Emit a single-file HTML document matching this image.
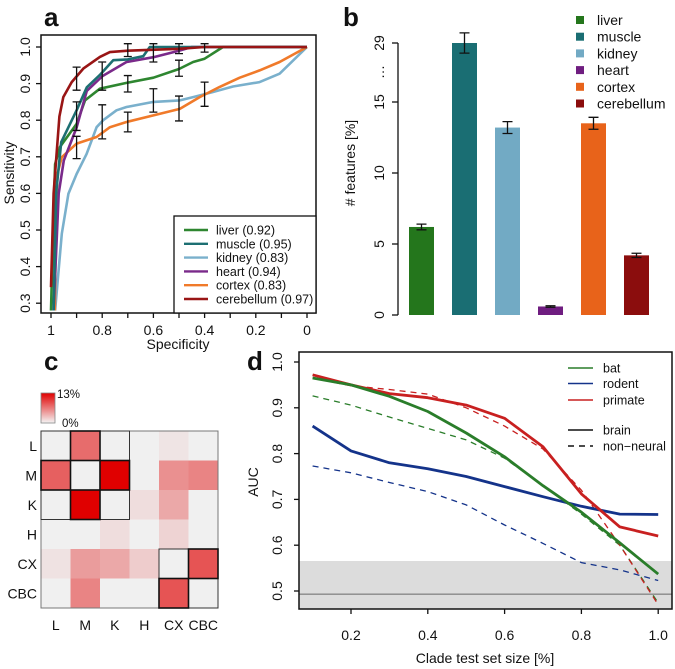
<!DOCTYPE html>
<html><head><meta charset="utf-8">
<style>
html,body{margin:0;padding:0;background:#fff;}
svg{display:block;font-family:"Liberation Sans",Arial,sans-serif;}
text{fill:#111;}
</style></head>
<body>
<svg id="fig" width="675" height="669" viewBox="0 0 675 669" xmlns="http://www.w3.org/2000/svg">
  <defs>
    <linearGradient id="cbar" x1="0" y1="1" x2="0" y2="0">
      <stop offset="0" stop-color="#f4f4f4"/><stop offset="1" stop-color="#e00000"/>
    </linearGradient>
  </defs>
  <g id="pa"></g>
  <g id="pb"></g>
  <g id="pc"></g>
  <g id="pd"></g>
</svg>
<script>
// ---------- Panel a data ----------
const rocNames = ["liver (0.92)","muscle (0.95)","kidney (0.83)","heart (0.94)","cortex (0.83)","cerebellum (0.97)"];
const rocColors = ["#2e8630","#1d6f72","#7ab0cc","#7a2a8a","#f07a2a","#991515"];
const rocLiver = [[1,0.27],[0.99,0.55],[0.984,0.68],[0.965,0.727],[0.9,0.79],[0.867,0.854],[0.809,0.886],[0.705,0.902],[0.6,0.916],[0.5,0.94],[0.445,0.959],[0.4,0.968],[0.328,1],[0,1]];
const rocMuscle = [[0.99,0.28],[0.98,0.6],[0.96,0.74],[0.9,0.827],[0.86,0.89],[0.81,0.923],[0.757,0.964],[0.7,0.966],[0.64,0.975],[0.614,1],[0,1]];
const rocKidney = [[0.984,0.28],[0.958,0.49],[0.932,0.599],[0.9,0.653],[0.861,0.708],[0.822,0.781],[0.796,0.8],[0.744,0.827],[0.705,0.836],[0.6,0.85],[0.497,0.854],[0.445,0.863],[0.367,0.877],[0.289,0.892],[0.185,0.904],[0.107,0.927],[0,1]];
const rocHeart = [[0.99,0.28],[0.97,0.6],[0.95,0.69],[0.9,0.78],[0.86,0.88],[0.8,0.92],[0.705,0.959],[0.6,0.972],[0.5,0.99],[0.45,1],[0,1]];
const rocCortex = [[0.985,0.28],[0.98,0.55],[0.975,0.653],[0.958,0.699],[0.9,0.736],[0.822,0.754],[0.77,0.781],[0.705,0.795],[0.6,0.813],[0.497,0.831],[0.419,0.863],[0.341,0.891],[0.263,0.916],[0.185,0.936],[0.107,0.959],[0,1]];
const rocCereb = [[1,0.344],[0.99,0.6],[0.967,0.81],[0.952,0.863],[0.919,0.904],[0.874,0.941],[0.809,0.973],[0.77,0.986],[0.7,0.99],[0.5,0.995],[0.4,1],[0,1]];
const rocErr = [[0.9,0.882,0.945],[0.9,0.772,0.85],[0.9,0.695,0.756],[0.8,0.882,0.959],[0.8,0.749,0.842],[0.7,0.974,1.009],[0.7,0.877,0.922],[0.7,0.768,0.822],[0.6,0.959,1.009],[0.6,0.822,0.886],[0.5,0.982,1.009],[0.5,0.92,0.964],[0.5,0.798,0.866],[0.4,0.986,1.009],[0.4,0.838,0.904]];
const rocXTicks = [1,0.8,0.6,0.4,0.2,0];
const rocYTicks = [0.3,0.4,0.5,0.6,0.7,0.8,0.9,1.0];

// ---------- Panel b data ----------
const barNames = ["liver","muscle","kidney","heart","cortex","cerebellum"];
const barColors = ["#24761c","#1a6e73","#72aac4","#6f1d80","#e8631a","#8b0d0d"];
const barValues = [6.2,29,13.2,0.6,13.5,4.2];
const barErrors = [0.2,2.4,0.42,0.05,0.42,0.15];
const barTicks = [0,5,10,15,29];

// ---------- Panel c data ----------
const hmLabels = ["L","M","K","H","CX","CBC"];
const hmValues = [
  [0,0.55,0,0,0.05,0],
  [0.6,0,1.0,0,0.4,0.45],
  [0,1.0,0,0.08,0.3,0],
  [0,0,0.08,0,0.12,0],
  [0.06,0.35,0.3,0.15,0,0.65],
  [0,0.45,0,0,0.65,0]
];
const hmBold = [[0,1],[1,0],[1,2],[2,1],[4,5],[5,4]];

// ---------- Panel d data ----------
const aucX = [0.1,0.2,0.3,0.4,0.5,0.6,0.7,0.8,0.9,1.0];
const batBrain = [0.965,0.95,0.925,0.892,0.845,0.793,0.73,0.672,0.605,0.537];
const batNon = [0.926,0.906,0.88,0.855,0.83,0.79,0.73,0.668,0.6,0.474];
const rodentBrain = [0.86,0.806,0.78,0.767,0.75,0.728,0.706,0.685,0.668,0.667];
const rodentNon = [0.773,0.758,0.737,0.717,0.688,0.644,0.604,0.562,0.546,0.523];
const primateBrain = [0.972,0.95,0.931,0.922,0.906,0.877,0.815,0.712,0.64,0.62];
const primateNon = [0.965,0.948,0.94,0.93,0.9,0.86,0.81,0.72,0.6,0.47];
const aucXTicks = [0.2,0.4,0.6,0.8,1.0];
const aucYTicks = [0.5,0.6,0.7,0.8,0.9,1.0];

const NS = "http://www.w3.org/2000/svg";
function mk(parent, tag, attrs, txt){
  const e = document.createElementNS(NS, tag);
  for (const k in attrs) e.setAttribute(k, attrs[k]);
  if (txt !== undefined) e.textContent = txt;
  parent.appendChild(e);
  return e;
}
function path(pts){ return pts.map((p,i)=>(i?"L":"M")+p[0].toFixed(1)+","+p[1].toFixed(1)).join(""); }

// ================= Panel a =================
(function(){
  const g = document.getElementById("pa");
  const sx = s => 51 + (1 - s) * 256;
  const sy = v => 47 + (1 - v) * 366;
  let t = mk(g,"text",{x:44,y:26,"font-size":26,"font-weight":"bold"},"a");
  
  
  let box = mk(g,"rect",{x:41,y:35,width:275,height:278,fill:"none",stroke:"#111","stroke-width":1.5});
  
  
  const curves = [rocLiver,rocMuscle,rocKidney,rocHeart,rocCortex,rocCereb];
  const order = [2,4,0,3,1,5];
  order.forEach(i=>{
    const p = mk(g,"path",{d:path(curves[i].map(q=>[sx(q[0]),sy(Math.max(q[1],0.28))])),fill:"none",stroke:rocColors[i],"stroke-width":2.6,"stroke-linejoin":"round"});
    
    
  });
  rocErr.forEach(e=>{
    const x = sx(e[0]);
    const eb = mk(g,"path",{d:`M${x},${sy(e[1])}V${sy(e[2])}M${x-4},${sy(e[1])}h8M${x-4},${sy(e[2])}h8`,stroke:"#111","stroke-width":1.3,fill:"none"});
    
    
  });
  rocXTicks.forEach(v=>{
    const x = sx(v);
    const tk = mk(g,"line",{x1:x,x2:x,y1:313,y2:318,stroke:"#111","stroke-width":1.3});
    
    
    const lb = mk(g,"text",{x:x,y:335,"font-size":14,"text-anchor":"middle"},String(v));
    
    
  });
  [0.9,0.7,0.5,0.3,0.1].forEach(v=>{
    const x = sx(v);
    const tk = mk(g,"line",{x1:x,x2:x,y1:313,y2:318,stroke:"#111","stroke-width":1.3});
    
    
  });
  rocYTicks.forEach(v=>{
    const y = sy(v);
    const tk = mk(g,"line",{x1:36,x2:41,y1:y,y2:y,stroke:"#111","stroke-width":1.3});
    
    
    const lb = mk(g,"text",{x:0,y:0,"font-size":14,"text-anchor":"middle",transform:`translate(30,${y}) rotate(-90)`},v.toFixed(1));
    
    
  });
  t = mk(g,"text",{x:0,y:0,"font-size":14,"text-anchor":"middle",transform:"translate(14,173) rotate(-90)"},"Sensitivity");
  
  
  t = mk(g,"text",{x:178,y:349,"font-size":14,"text-anchor":"middle"},"Specificity");
  
  
  const lg = mk(g,"g",{});
  
  
  mk(lg,"rect",{x:174,y:216,width:142,height:97,fill:"#fff",stroke:"#111","stroke-width":1.3});
  rocNames.forEach((n,i)=>{
    const y = 230 + i*13.8;
    const ln = mk(lg,"line",{x1:184,x2:208,y1:y,y2:y,stroke:rocColors[i],"stroke-width":2.4});
    
    
    const tx = mk(lg,"text",{x:216,y:y+4.5,"font-size":12.5},n);
    
    
  });
})();

// ================= Panel b =================
(function(){
  const g = document.getElementById("pb");
  const by = v => v <= 15 ? 315 - v*14.2 : 102 - (v-15)*(59/14);
  const bx = i => 409 + i*43;
  let t = mk(g,"text",{x:343,y:26,"font-size":26,"font-weight":"bold"},"b");
  
  
  const ax = mk(g,"line",{x1:398,x2:398,y1:by(0),y2:by(29),stroke:"#111","stroke-width":1.3});
  
  
  barTicks.forEach(v=>{
    const y = by(v);
    const tk = mk(g,"line",{x1:392,x2:398,y1:y,y2:y,stroke:"#111","stroke-width":1.3});
    
    
    const lb = mk(g,"text",{x:0,y:0,"font-size":14,"text-anchor":"middle",transform:`translate(384,${y}) rotate(-90)`},String(v));
    
    
  });
  t = mk(g,"text",{x:0,y:0,"font-size":14,"text-anchor":"middle",transform:`translate(384,72) rotate(-90)`},"…");
  
  
  t = mk(g,"text",{x:0,y:0,"font-size":14,"text-anchor":"middle",transform:"translate(355,163) rotate(-90)"},"# features [%]");
  
  
  barValues.forEach((v,i)=>{
    const x = bx(i), y = by(v);
    const r = mk(g,"rect",{x:x,y:y,width:25,height:by(0)-y,fill:barColors[i]});
    
    
    const lo = by(v-barErrors[i]), hi = by(v+barErrors[i]), cx = x+12.5;
    const eb = mk(g,"path",{d:`M${cx},${lo}V${hi}M${cx-5},${lo}h10M${cx-5},${hi}h10`,stroke:"#111","stroke-width":1.3,fill:"none"});
    
    
  });
  barNames.forEach((n,i)=>{
    const y = 20 + i*16.7;
    const sq = mk(g,"rect",{x:576,y:y-4,width:8,height:8,fill:barColors[i]});
    
    
    const tx = mk(g,"text",{x:597,y:y+5,"font-size":14},n);
    
    
  });
})();

// ================= Panel c =================
(function(){
  const g = document.getElementById("pc");
  const x0 = 41, y0 = 431, cs = 29.5;
  let t = mk(g,"text",{x:44,y:370,"font-size":26,"font-weight":"bold"},"c");
  
  
  const cb = mk(g,"rect",{x:41,y:393,width:14,height:30,fill:"url(#cbar)",stroke:"#888","stroke-width":0.8});
  
  
  t = mk(g,"text",{x:57,y:398,"font-size":11.5},"13%");
  
  
  t = mk(g,"text",{x:62,y:427,"font-size":11.5},"0%");
  
  
  const col = v => {
    const r = Math.round(240 - (240-224)*v), gg = Math.round(240 - 240*v), b = Math.round(240 - 240*v);
    return `rgb(${r},${gg},${b})`;
  };
  hmValues.forEach((row,r)=>row.forEach((v,c)=>{
    const cell = mk(g,"rect",{x:x0+c*cs,y:y0+r*cs,width:cs+0.3,height:cs+0.3,fill:col(v)});
    
    
  }));
  mk(g,"rect",{x:x0,y:y0,width:cs*6,height:cs*6,fill:"none",stroke:"#777","stroke-width":1});
  mk(g,"rect",{x:x0,y:y0,width:cs*3,height:cs*3,fill:"none",stroke:"#333","stroke-width":1});
  mk(g,"rect",{x:x0+cs*4,y:y0+cs*4,width:cs*2,height:cs*2,fill:"none",stroke:"#333","stroke-width":1});
  hmBold.forEach(p=>{
    const b = mk(g,"rect",{x:x0+p[1]*cs,y:y0+p[0]*cs,width:cs,height:cs,fill:"none",stroke:"#111","stroke-width":1.6});
    
    
  });
  hmLabels.forEach((l,i)=>{
    const rl = mk(g,"text",{x:37,y:y0+i*cs+cs/2+5,"font-size":14,"text-anchor":"end"},l);
    
    
    const cl = mk(g,"text",{x:x0+i*cs+cs/2,y:630,"font-size":14,"text-anchor":"middle"},l);
    
    
  });
})();

// ================= Panel d =================
(function(){
  const g = document.getElementById("pd");
  const dx = v => 312.6 + (v-0.1)*384;
  const dy = v => 362 + (1-v)*458;
  const L = 299, T = 352, R = 672, B = 609;
  let t = mk(g,"text",{x:247,y:370,"font-size":26,"font-weight":"bold"},"d");
  
  
  const band = mk(g,"rect",{x:L,y:dy(0.5655),width:R-L,height:B-dy(0.5655),fill:"#dcdcdc"});
  
  
  const base = mk(g,"line",{x1:L,x2:R,y1:dy(0.493),y2:dy(0.493),stroke:"#888","stroke-width":1.3});
  
  
  const series = [
    [batNon,"#2a7d2a",true,1.3,"bat-non-neural"],
    [rodentNon,"#14338a",true,1.3,"rodent-non-neural"],
    [primateNon,"#c82020",true,1.3,"primate-non-neural"],
    [rodentBrain,"#14338a",false,2.8,"rodent-brain"],
    [primateBrain,"#c82020",false,2.8,"primate-brain"],
    [batBrain,"#2a7d2a",false,2.8,"bat-brain"]
  ];
  series.forEach(s=>{
    const attrs = {d:path(aucX.map((x,i)=>[dx(x),dy(s[0][i])])),fill:"none",stroke:s[1],"stroke-width":s[3],"stroke-linejoin":"round"};
    if (s[2]) attrs["stroke-dasharray"] = "6,5";
    const p = mk(g,"path",attrs);
    
    
  });
  const fr = mk(g,"rect",{x:L,y:T,width:R-L,height:B-T,fill:"none",stroke:"#111","stroke-width":1.5});
  
  
  aucXTicks.forEach(v=>{
    const x = dx(v);
    const tk = mk(g,"line",{x1:x,x2:x,y1:B,y2:B+5,stroke:"#111","stroke-width":1.3});
    
    
    const lb = mk(g,"text",{x:x,y:640,"font-size":14,"text-anchor":"middle"},v.toFixed(1));
    
    
  });
  aucYTicks.forEach(v=>{
    const y = dy(v);
    const tk = mk(g,"line",{x1:L-5,x2:L,y1:y,y2:y,stroke:"#111","stroke-width":1.3});
    
    
    const lb = mk(g,"text",{x:0,y:0,"font-size":14,"text-anchor":"middle",transform:`translate(282,${y}) rotate(-90)`},v.toFixed(1));
    
    
  });
  t = mk(g,"text",{x:0,y:0,"font-size":14,"text-anchor":"middle",transform:"translate(258,482) rotate(-90)"},"AUC");
  
  
  t = mk(g,"text",{x:485,y:663,"font-size":14,"text-anchor":"middle"},"Clade test set size [%]");
  
  
  const leg = [["bat","#2a7d2a",false,368],["rodent","#14338a",false,383.5],["primate","#c82020",false,400],["brain","#111",false,430],["non\u2212neural","#111",true,446]];
  leg.forEach(l=>{
    const a = {x1:568,x2:593,y1:l[3],y2:l[3],stroke:l[1],"stroke-width":1.6};
    if (l[2]) a["stroke-dasharray"] = "6,5";
    const ln = mk(g,"line",a);
    
    
    const tx = mk(g,"text",{x:603,y:l[3]+4.5,"font-size":12.5},l[0]);
    
    
  });
})();
</script>
</body></html>
